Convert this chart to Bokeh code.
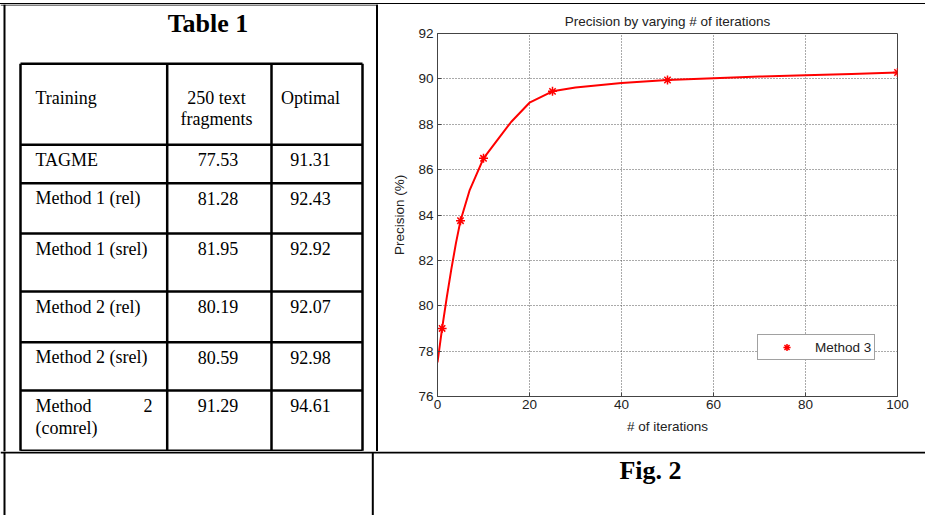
from bokeh.plotting import figure
from bokeh.models import Range1d, FixedTicker, Legend, LegendItem, Div
from bokeh.layouts import row, column
from bokeh.embed import file_html
from bokeh.resources import INLINE
from bokeh.core.properties import value

# ---------------- data ----------------
table_title = "Table 1"
header_training = "Training"
header_frag = ["250 text", "fragments"]
header_opt = "Optimal"
methods = ["TAGME", "Method 1 (rel)", "Method 1 (srel)", "Method 2 (rel)",
           "Method 2 (srel)", "Method 2 (comrel)"]
frag250 = [77.53, 81.28, 81.95, 80.19, 80.59, 91.29]
optimal = [91.31, 92.43, 92.92, 92.07, 92.98, 94.61]

fig_caption = "Fig. 2"
chart_title = "Precision by varying # of iterations"
iter_marks = [1, 5, 10, 25, 50, 100]
prec_marks = [79.0, 83.75, 86.5, 89.45, 89.95, 90.28]
iter_curve = [0, 1, 2, 3, 4, 5, 7, 10, 13, 16, 20, 25, 30, 40, 50, 60, 70, 80, 90, 100]
prec_curve = [77.5, 79.0, 80.35, 81.6, 82.75, 83.75, 85.1, 86.5, 87.3, 88.1,
              88.95, 89.45, 89.62, 89.82, 89.95, 90.03, 90.1, 90.16, 90.22, 90.28]
x_ticks = [0, 20, 40, 60, 80, 100]
y_ticks = [76, 78, 80, 82, 84, 86, 88, 90, 92]
series_name = "Method 3"

SERIF = value("Liberation Serif")
SANS = "Liberation Sans"


def canvas(w, h, xr, yr):
    f = figure(width=w, height=h, x_range=Range1d(*xr), y_range=Range1d(*yr),
               output_backend="svg", toolbar_location=None,
               x_axis_location=None, y_axis_location=None, min_border=0)
    f.grid.visible = False
    f.outline_line_color = None
    return f


# ---------------- top border strip (thin rule at y=3..4) ----------------
T = Div(text="", width=925, height=4, margin=0,
        styles={"background": "linear-gradient(to bottom, #ffffff 0px, #ffffff 3px, #000000 3px, #000000 4px)"})

# ---------------- left cell: Table 1 ----------------
L = canvas(378, 447, (0, 378), (451, 4))
L.segment(x0=[4, 376.5], y0=[4, 4], x1=[4, 376.5], y1=[451, 451],
          line_color="black", line_width=2)
L.segment(x0=[0], y0=[4.5], x1=[395], y1=[4.5], line_color="black", line_width=1)

row_lines = [63.3, 144.3, 182.7, 233, 291, 341.7, 390, 450.3]
col_lines = [20, 166.7, 271, 362]
L.segment(x0=[col_lines[0]] * len(row_lines), y0=row_lines,
          x1=[col_lines[-1]] * len(row_lines), y1=row_lines,
          line_color="black", line_width=2.5)
L.segment(x0=col_lines, y0=[row_lines[0]] * 4, x1=col_lines, y1=[row_lines[-1]] * 4,
          line_color="black", line_width=2.5)

L.text(x=[207.5], y=[23], text=[table_title], text_font=SERIF, text_font_size=value("26px"),
       text_font_style="bold", text_align="center", text_baseline="middle", text_color="black")

fs = value("18px")
L.text(x=[35], y=[97.3], text=[header_training], text_font=SERIF, text_font_size=fs,
       text_align="left", text_baseline="middle", text_color="black")
L.text(x=[216, 216], y=[97, 118.5], text=header_frag, text_font=SERIF, text_font_size=fs,
       text_align="center", text_baseline="middle", text_color="black")
L.text(x=[310], y=[97.3], text=[header_opt], text_font=SERIF, text_font_size=fs,
       text_align="center", text_baseline="middle", text_color="black")

lx, ly, ltxt, rx, ry, rtxt = [], [], [], [], [], []
num_y = []
for i, m in enumerate(methods):
    yc = row_lines[i + 1] + 15
    num_y.append(yc)
    if m == "Method 2 (comrel)":
        lx += [35, 35]
        ly += [yc, yc + 22.4]
        ltxt += ["Method", "(comrel)"]
        rx.append(152)
        ry.append(yc)
        rtxt.append("2")
    else:
        lx.append(35)
        ly.append(yc)
        ltxt.append(m)
L.text(x=lx, y=ly, text=ltxt, text_font=SERIF, text_font_size=fs,
       text_align="left", text_baseline="middle", text_color="black")
L.text(x=rx, y=ry, text=rtxt, text_font=SERIF, text_font_size=fs,
       text_align="right", text_baseline="middle", text_color="black")
L.text(x=[217.5] * len(frag250), y=num_y, text=[f"{v:.2f}" for v in frag250],
       text_font=SERIF, text_font_size=fs, text_align="center", text_baseline="middle",
       text_color="black")
L.text(x=[310] * len(optimal), y=num_y, text=[f"{v:.2f}" for v in optimal],
       text_font=SERIF, text_font_size=fs, text_align="center", text_baseline="middle",
       text_color="black")

# ---------------- chart ----------------
C = figure(width=547, height=447, x_range=Range1d(0, 100), y_range=Range1d(76, 92),
           output_backend="svg", toolbar_location=None,
           min_border_left=59, min_border_right=28, min_border_top=29, min_border_bottom=55,
           title=chart_title)
C.title.text_font = SANS
C.title.text_font_size = "13.5px"
C.title.text_font_style = "normal"
C.title.text_color = "#222222"
C.title.align = "center"
C.title.standoff = 10
C.outline_line_color = "#444444"

for ax, ticks in ((C.xaxis[0], x_ticks), (C.yaxis[0], y_ticks)):
    ax.ticker = FixedTicker(ticks=ticks)
    ax.minor_tick_line_color = None
    ax.major_tick_in = 4
    ax.major_tick_out = 0
    ax.major_tick_line_color = "#444444"
    ax.axis_line_color = "#444444"
    ax.major_label_text_font = SANS
    ax.major_label_text_font_size = "13.5px"
    ax.major_label_text_color = "#222222"
    ax.axis_label_text_font = SANS
    ax.axis_label_text_font_size = "13.5px"
    ax.axis_label_text_font_style = "normal"
    ax.axis_label_text_color = "#222222"
C.xaxis.axis_label = "# of iterations"
C.yaxis.axis_label = "Precision (%)"
C.xaxis.major_label_standoff = 3
C.xaxis.axis_label_standoff = 7
C.yaxis.major_label_standoff = 4
C.yaxis.axis_label_standoff = 8

C.xgrid.ticker = FixedTicker(ticks=x_ticks)
C.ygrid.ticker = FixedTicker(ticks=y_ticks)
C.grid.grid_line_color = "#555555"
C.grid.grid_line_dash = "1 2"
C.grid.grid_line_width = 1

C.line(iter_curve, prec_curve, line_color="red", line_width=2)
marks = C.scatter(iter_marks, prec_marks, marker="asterisk", size=9,
                  line_color="red", line_width=1.5)

legend = Legend(items=[LegendItem(label=series_name, renderers=[marks])],
                location=(320, 36), margin=0, padding=3, spacing=0,
                glyph_width=51, glyph_height=18, label_height=18, label_standoff=3,
                label_text_font=SANS, label_text_font_size="13.5px",
                label_text_color="#222222", border_line_color="#444444",
                border_line_width=1, background_fill_color="white",
                background_fill_alpha=1)
C.add_layout(legend)

# ---------------- bottom strip: rule, cell dividers, caption ----------------
B = canvas(925, 64, (0, 925), (515, 451))
B.segment(x0=[0, 4, 372.3], y0=[452, 451, 452], x1=[925, 4, 372.3], y1=[452, 515, 515],
          line_color="black", line_width=2)
B.text(x=[650], y=[470], text=[fig_caption], text_font=SERIF, text_font_size=value("26px"),
       text_font_style="bold", text_align="center", text_baseline="middle", text_color="black")

layout = column(T, row(L, column(C, spacing=0), spacing=0), B, spacing=0)
open("out.html", "w").write(file_html(layout, INLINE))
